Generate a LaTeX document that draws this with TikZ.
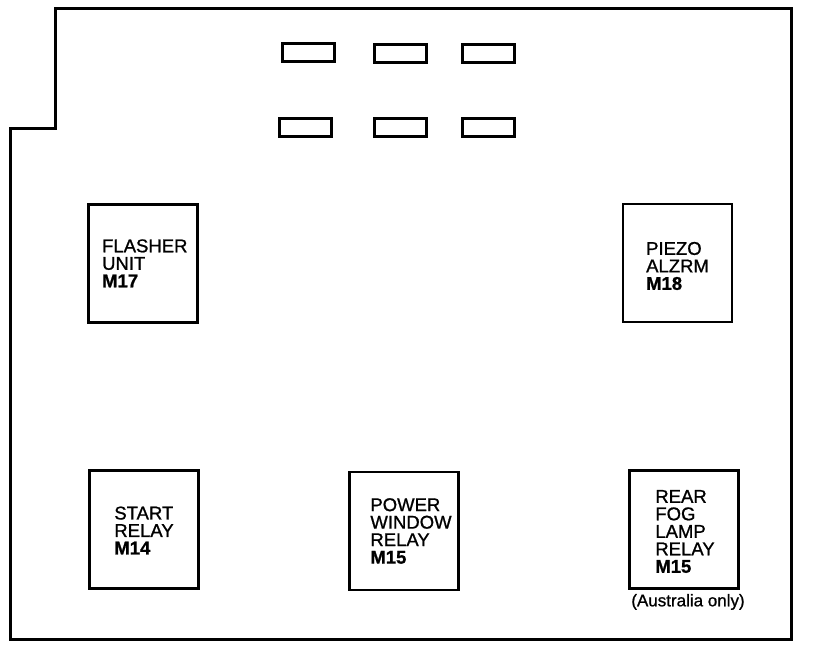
\documentclass[tikz,border=0pt]{standalone}
\usepackage{fontspec}
\setmainfont{Liberation Sans}
\newfontfamily\boxfont[FakeBold=1]{Liberation Sans}
\usepackage{tikz}

\tikzset{
  fuse/.style={draw,line width=2.6pt,minimum width=52pt,minimum height=18pt,inner sep=0pt},
  relaybox/.style={draw,line width=2.6pt,minimum width=109pt,minimum height=118pt,inner sep=0pt},
  lbl/.style={align=left,inner sep=0pt,font=\boxfont\fontsize{18.5}{17.5}\selectfont},
}

\begin{document}
\begin{tikzpicture}[x=1pt,y=-1pt]
  \useasboundingbox (0,0) rectangle (816,650);
  % housing outline
  \draw[line width=3pt,line join=miter] (55,9) -- (791,9) -- (791,639) -- (10,639)
    -- (10,129) -- (55,129) -- cycle;

  % fuses
  \node[fuse] (f1) at (308.7,52.5) {};
  \node[fuse] (f2) at (400.2,53.5) {};
  \node[fuse] (f3) at (488.3,53.5) {};
  \node[fuse] (f4) at (305.7,127.8) {};
  \node[fuse] (f5) at (400.3,127.5) {};
  \node[fuse] (f6) at (488.5,127.5) {};

  % relays
  \node[relaybox] (flasher) at (142.8,263.3) {};
  \node[relaybox] (piezo) at (677.5,263) {};
  \node[relaybox] (start) at (144,529.5) {};
  \node[relaybox] (pwr) at (404,531) {};
  \node[relaybox] (fog) at (684,529.5) {};

  \node[lbl] (flasherT) at ([xshift=2pt,yshift=0pt]flasher.center) {FLASHER\\UNIT\\\textbf{M17}};
  \node[lbl] (piezoT) at ([xshift=0pt,yshift=-3pt]piezo.center) {PIEZO\\ALZRM\\\textbf{M18}};
  \node[lbl] (startT) at ([xshift=0pt,yshift=-1pt]start.center) {START\\RELAY\\\textbf{M14}};
  \node[lbl] (pwrT) at ([xshift=7pt,yshift=0pt]pwr.center) {POWER\\WINDOW\\RELAY\\\textbf{M15}};
  \node[lbl] (fogT) at ([xshift=1pt,yshift=-2pt]fog.center) {REAR\\FOG\\LAMP\\RELAY\\\textbf{M15}};
  \node[font=\boxfont\fontsize{17}{18}\selectfont,inner sep=0pt,anchor=north] (note) at ([xshift=4pt,yshift=-4pt]fog.south) {(Australia only)};
\end{tikzpicture}
\end{document}
